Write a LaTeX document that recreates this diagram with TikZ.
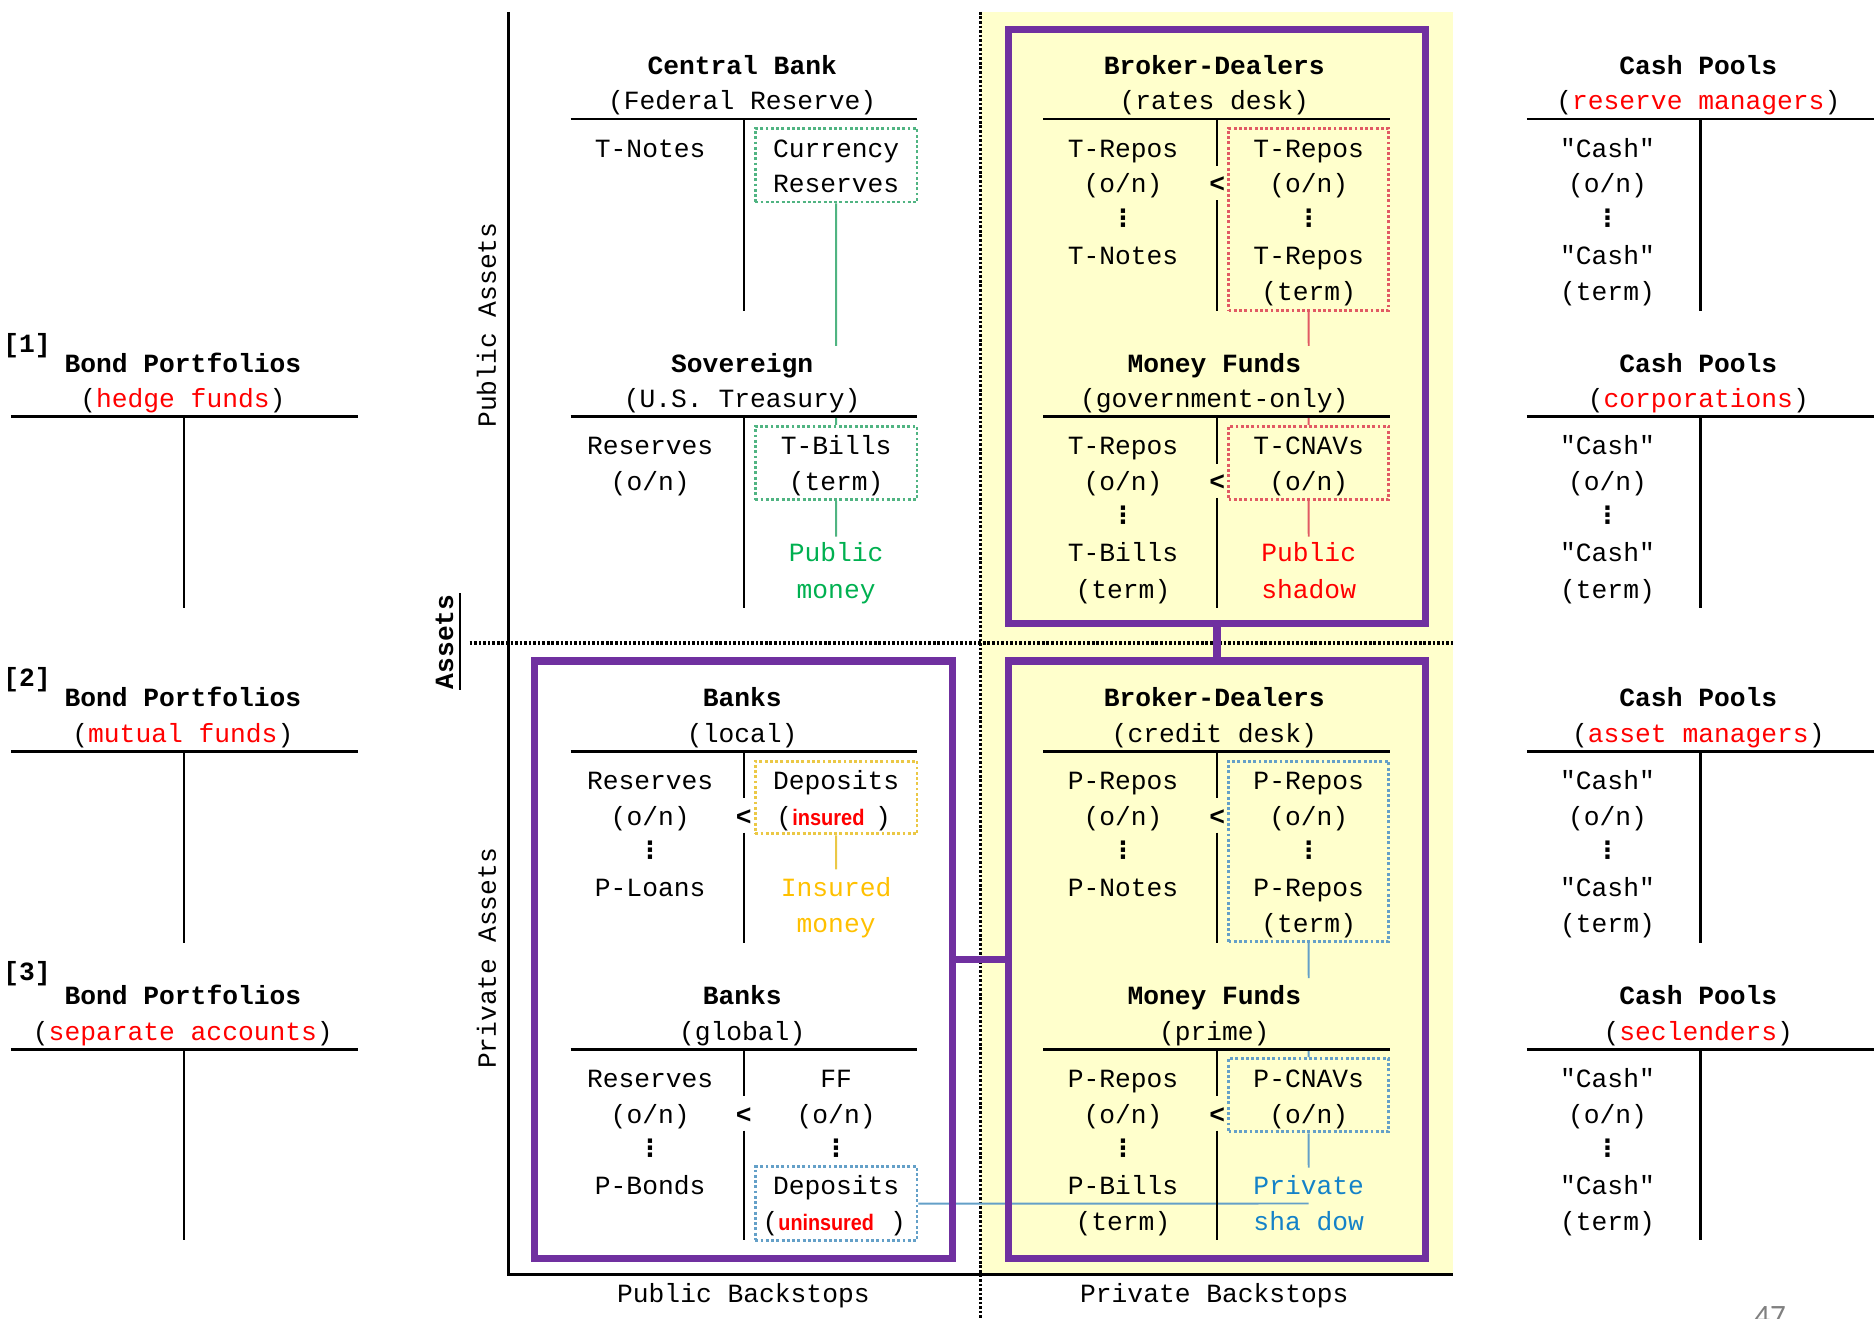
\documentclass[tikz,border=0pt]{standalone}
\usepackage{fontspec}
\usepackage{graphicx}
\setmainfont{Liberation Mono}
\setmonofont{Liberation Mono}
\setsansfont{Liberation Sans}
\newfontfamily\dvfont{DejaVu Sans}
\newfontfamily\pgfont{Carlito}
\usetikzlibrary{fit}
\definecolor{purp}{RGB}{112,48,160}
\definecolor{ybg}{RGB}{255,255,204}
\definecolor{gtext}{RGB}{0,176,80}
\definecolor{otext}{RGB}{255,192,0}
\definecolor{btext}{RGB}{20,130,200}
\definecolor{gbord}{RGB}{80,180,130}
\definecolor{rbord}{RGB}{225,90,100}
\definecolor{obord}{RGB}{235,200,70}
\definecolor{bbord}{RGB}{100,160,200}
\newcommand\vdt{{\dvfont\bfseries\fontsize{10}{11}\selectfont\char"22EE}}
\newcommand\insw[2]{\textcolor{red}{\scalebox{#1}[1]{\fontsize{9.4}{10}\sffamily\bfseries #2}}}
\begin{document}
\begin{tikzpicture}[x=0.5pt,y=-0.5pt,
  txt/.style={inner sep=0pt, anchor=base, yshift=-3.2pt, font=\ttfamily\fontsize{11}{13}\selectfont},
  ttl/.style={txt, font=\ttfamily\fontsize{11}{13}\selectfont\bfseries},
  dts/.style={inner sep=0pt, anchor=center},
  rot/.style={inner sep=0pt, anchor=center, rotate=90, font=\ttfamily\fontsize{11}{13}\selectfont},
  tacc/.style={line width=1.1pt},
  axisln/.style={line width=1.2pt},
  dsh/.style={line width=1.5pt, dash pattern=on 1.1pt off 0.8pt},
  pbox/.style={draw=purp, line width=3pt, inner sep=0pt},
  pline/.style={draw=purp, line width=3pt},
  cbox/.style={draw=#1, densely dotted, line width=1.2pt, inner sep=0pt},
  conn/.style={draw=#1, line width=0.8pt},
]
\useasboundingbox (0,0) rectangle (1568,1102.8);

% background and axes
\fill[ybg] (821,10) rectangle (1216,1066.7);
\draw[dsh] (820.5,10) -- (820.5,1102.8);
\draw[dsh] (393,538) -- (1216,538);
\draw[axisln] (425.3,10) -- (425.3,1066.7) -- (1216,1066.7);
\draw[line width=0.8pt] (385,496.5) -- (385,577);

\node[rot] (pubA) at (407,272) {Public Assets};
\node[rot] (privA) at (407,802) {Private Assets};
\node[rot, font=\ttfamily\fontsize{11}{13}\selectfont\bfseries] (assets) at (372,537) {Assets};
\node[txt] (pubB) at (622,1083.7) {Public Backstops};
\node[txt] (privB) at (1016,1083.7) {Private Backstops};
\node[inner sep=0pt, anchor=north, text=gray, font=\pgfont\fontsize{13}{15}\selectfont] (pg) at (1481,1092.5) {47};

% colored boxes
\node[cbox=gbord, fit={(632,107.4)(767.3,169)}] (cr) {};
\node[cbox=gbord, fit={(632,356.7)(767.3,418)}] (tb) {};
\node[cbox=rbord, fit={(1027.9,107.4)(1162,259.5)}] (rr) {};
\node[cbox=rbord, fit={(1027.9,356.7)(1162,418)}] (tc) {};
\node[cbox=obord, fit={(632,636.9)(767.3,697.7)}] (di) {};
\node[cbox=bbord, fit={(1027.9,636.9)(1162,787.8)}] (pr) {};
\node[cbox=bbord, fit={(1027.9,885.8)(1162,947)}] (pc) {};
\node[cbox=bbord, fit={(632,976.3)(767.3,1037.8)}] (du) {};

% connectors
\coordinate (g1) at (699.6,289.4);
\coordinate (g2) at (699.6,348.6);
\coordinate (g3) at (699.6,449);
\draw[conn=gbord] (cr.south) -- (g1);
\draw[conn=gbord] (g2) -- (tb.north);
\draw[conn=gbord] (tb.south) -- (g3);
\coordinate (r1) at (1095,289.4);
\coordinate (r2) at (1095,348.6);
\coordinate (r3) at (1095,449);
\draw[conn=rbord] (rr.south) -- (r1);
\draw[conn=rbord] (r2) -- (tc.north);
\draw[conn=rbord] (tc.south) -- (r3);
\coordinate (o1) at (699.6,727.4);
\draw[conn=obord] (di.south) -- (o1);
\coordinate (b1) at (1095,818.5);
\coordinate (b2) at (1095,877.9);
\coordinate (b3) at (1095,977);
\coordinate (b4) at (1095,1007);
\draw[conn=bbord] (pr.south) -- (b1);
\draw[conn=bbord] (b2) -- (pc.north);
\draw[conn=bbord] (pc.south) -- (b3);
\draw[conn=bbord] (du.east) -- (b4);

% purple boxes
\node[pbox, fit={(843.5,24.5)(1193,522)}] (pTR) {};
\node[pbox, fit={(843.5,553)(1193,1053)}] (pBR) {};
\node[pbox, fit={(447.5,553)(797,1053)}] (pBL) {};
\draw[pline] (pTR.south) -- (pBR.north);
\draw[pline] (pBL.east) -- (pBR.west);

% ---------- Column A: Bond Portfolios ----------
\node[ttl] (i1) at (22.6,288.7) {[1]};
\node[ttl] (bp1) at (153,305) {Bond Portfolios};
\node[txt] (bs1) at (153,334.5) {(\textcolor{red}{hedge funds})};
\draw[tacc] (9,348.6) -- (299.4,348.6) (154,348.6) -- (154,508.8);
\node[ttl] (i2) at (22.6,568) {[2]};
\node[ttl] (bp2) at (153,584.4) {Bond Portfolios};
\node[txt] (bs2) at (153,614.5) {(\textcolor{red}{mutual funds})};
\draw[tacc] (9,628.6) -- (299.4,628.6) (154,628.6) -- (154,788.9);
\node[ttl] (i3) at (22.6,814) {[3]};
\node[ttl] (bp3) at (153,834) {Bond Portfolios};
\node[txt] (bs3) at (153,864) {(\textcolor{red}{separate accounts})};
\draw[tacc] (9,877.9) -- (299.4,877.9) (154,877.9) -- (154,1037.8);

% ---------- Column B ----------
\node[ttl] (cbT) at (621,55.6) {Central Bank};
\node[txt] (cbS) at (621,85.6) {(Federal Reserve)};
\draw[tacc] (477.4,99.6) -- (767.3,99.6) (622.4,99.6) -- (622.4,259.9);
\node[txt] (cbL1) at (544,125) {T-Notes};
\node[txt] (cbR1) at (699.6,125) {Currency};
\node[txt] (cbR2) at (699.6,155) {Reserves};

\node[ttl] (svT) at (621,305) {Sovereign};
\node[txt] (svS) at (621,334.5) {(U.S. Treasury)};
\draw[tacc] (477.4,348.6) -- (767.3,348.6) (622.4,348.6) -- (622.4,508.8);
\node[txt] (svL1) at (544,374) {Reserves};
\node[txt] (svL2) at (544,404) {(o/n)};
\node[txt] (svR1) at (699.6,374) {T-Bills};
\node[txt] (svR2) at (699.6,404) {(term)};
\node[txt, text=gtext] (svR4) at (699.6,463.8) {Public};
\node[txt, text=gtext] (svR5) at (699.6,494) {money};

\node[ttl] (blT) at (621,584.4) {Banks};
\node[txt] (blS) at (621,614.5) {(local)};
\draw[tacc] (477.4,628.6) -- (767.3,628.6) (622.4,628.6) -- (622.4,668) (622.4,696.6) -- (622.4,788.9);
\node[ttl] (blLt) at (622.4,684) {<};
\node[txt] (blL1) at (544,654) {Reserves};
\node[txt] (blL2) at (544,684) {(o/n)};
\node[dts] (blL3) at (544,711.4) {\vdt};
\node[txt] (blL4) at (544,743.8) {P-Loans};
\node[txt] (blR1) at (699.6,654) {Deposits};
\node[txt] (blR2) at (697.6,684) {(\insw{0.89}{insured}\hspace{4.5pt})};
\node[txt, text=otext] (blR4) at (699.6,743.8) {Insured};
\node[txt, text=otext] (blR5) at (699.6,774) {money};

\node[ttl] (bgT) at (621,834) {Banks};
\node[txt] (bgS) at (621,864) {(global)};
\draw[tacc] (477.4,877.9) -- (767.3,877.9) (622.4,877.9) -- (622.4,917.3) (622.4,945.9) -- (622.4,1037.8);
\node[ttl] (bgLt) at (622.4,933.3) {<};
\node[txt] (bgL1) at (544,903.3) {Reserves};
\node[txt] (bgL2) at (544,933.3) {(o/n)};
\node[dts] (bgL3) at (544,960.7) {\vdt};
\node[txt] (bgL4) at (544,993.1) {P-Bonds};
\node[txt] (bgR1) at (699.6,903.3) {FF};
\node[txt] (bgR2) at (699.6,933.3) {(o/n)};
\node[dts] (bgR3) at (699.6,960.7) {\vdt};
\node[txt] (bgR4) at (699.6,993.1) {Deposits};
\node[txt] (bgR5) at (698,1023.3) {(\insw{0.88}{uninsured}\hspace{6.7pt})};

% ---------- Column C ----------
\node[ttl] (rdT) at (1016,55.6) {Broker-Dealers};
\node[txt] (rdS) at (1016,85.6) {(rates desk)};
\draw[tacc] (872.8,99.6) -- (1163,99.6) (1018.4,99.6) -- (1018.4,139) (1018.4,167.6) -- (1018.4,259.9);
\node[ttl] (rdLt) at (1018.4,155) {<};
\node[txt] (rdL1) at (939.6,125) {T-Repos};
\node[txt] (rdL2) at (939.6,155) {(o/n)};
\node[dts] (rdL3) at (939.6,182.4) {\vdt};
\node[txt] (rdL4) at (939.6,214.8) {T-Notes};
\node[txt] (rdR1) at (1095,125) {T-Repos};
\node[txt] (rdR2) at (1095,155) {(o/n)};
\node[dts] (rdR3) at (1095,182.4) {\vdt};
\node[txt] (rdR4) at (1095,214.8) {T-Repos};
\node[txt] (rdR5) at (1095,245) {(term)};

\node[ttl] (mgT) at (1016,305) {Money Funds};
\node[txt] (mgS) at (1016,334.5) {(government-only)};
\draw[tacc] (872.8,348.6) -- (1163,348.6) (1018.4,348.6) -- (1018.4,388) (1018.4,416.6) -- (1018.4,508.8);
\node[ttl] (mgLt) at (1018.4,404) {<};
\node[txt] (mgL1) at (939.6,374) {T-Repos};
\node[txt] (mgL2) at (939.6,404) {(o/n)};
\node[dts] (mgL3) at (939.6,431.4) {\vdt};
\node[txt] (mgL4) at (939.6,463.8) {T-Bills};
\node[txt] (mgL5) at (939.6,494) {(term)};
\node[txt] (mgR1) at (1095,374) {T-CNAVs};
\node[txt] (mgR2) at (1095,404) {(o/n)};
\node[txt, text=red] (mgR4) at (1095,463.8) {Public};
\node[txt, text=red] (mgR5) at (1095,494) {shadow};

\node[ttl] (cdT) at (1016,584.4) {Broker-Dealers};
\node[txt] (cdS) at (1016,614.5) {(credit desk)};
\draw[tacc] (872.8,628.6) -- (1163,628.6) (1018.4,628.6) -- (1018.4,668) (1018.4,696.6) -- (1018.4,788.9);
\node[ttl] (cdLt) at (1018.4,684) {<};
\node[txt] (cdL1) at (939.6,654) {P-Repos};
\node[txt] (cdL2) at (939.6,684) {(o/n)};
\node[dts] (cdL3) at (939.6,711.4) {\vdt};
\node[txt] (cdL4) at (939.6,743.8) {P-Notes};
\node[txt] (cdR1) at (1095,654) {P-Repos};
\node[txt] (cdR2) at (1095,684) {(o/n)};
\node[dts] (cdR3) at (1095,711.4) {\vdt};
\node[txt] (cdR4) at (1095,743.8) {P-Repos};
\node[txt] (cdR5) at (1095,774) {(term)};

\node[ttl] (mpT) at (1016,834) {Money Funds};
\node[txt] (mpS) at (1016,864) {(prime)};
\draw[tacc] (872.8,877.9) -- (1163,877.9) (1018.4,877.9) -- (1018.4,917.3) (1018.4,945.9) -- (1018.4,1037.8);
\node[ttl] (mpLt) at (1018.4,933.3) {<};
\node[txt] (mpL1) at (939.6,903.3) {P-Repos};
\node[txt] (mpL2) at (939.6,933.3) {(o/n)};
\node[dts] (mpL3) at (939.6,960.7) {\vdt};
\node[txt] (mpL4) at (939.6,993.1) {P-Bills};
\node[txt] (mpL5) at (939.6,1023.3) {(term)};
\node[txt] (mpR1) at (1095,903.3) {P-CNAVs};
\node[txt] (mpR2) at (1095,933.3) {(o/n)};
\node[txt, text=btext] (mpR4) at (1095,993.1) {Private};
\node[txt, text=btext] (mpR5) at (1095,1023.3) {sha dow};

% ---------- Column D: Cash Pools ----------
\node[ttl] (c1T) at (1421,55.6) {Cash Pools};
\node[txt] (c1S) at (1421,85.6) {(\textcolor{red}{reserve managers})};
\draw[tacc] (1277.6,99.6) -- (1570,99.6) (1422.7,99.6) -- (1422.7,259.9);
\node[txt] (c1L1) at (1345,125) {"Cash"};
\node[txt] (c1L2) at (1345,155) {(o/n)};
\node[dts] (c1L3) at (1345,182.4) {\vdt};
\node[txt] (c1L4) at (1345,214.8) {"Cash"};
\node[txt] (c1L5) at (1345,245) {(term)};

\node[ttl] (c2T) at (1421,305) {Cash Pools};
\node[txt] (c2S) at (1421,334.5) {(\textcolor{red}{corporations})};
\draw[tacc] (1277.6,348.6) -- (1570,348.6) (1422.7,348.6) -- (1422.7,508.8);
\node[txt] (c2L1) at (1345,374) {"Cash"};
\node[txt] (c2L2) at (1345,404) {(o/n)};
\node[dts] (c2L3) at (1345,431.4) {\vdt};
\node[txt] (c2L4) at (1345,463.8) {"Cash"};
\node[txt] (c2L5) at (1345,494) {(term)};

\node[ttl] (c3T) at (1421,584.4) {Cash Pools};
\node[txt] (c3S) at (1421,614.5) {(\textcolor{red}{asset managers})};
\draw[tacc] (1277.6,628.6) -- (1570,628.6) (1422.7,628.6) -- (1422.7,788.9);
\node[txt] (c3L1) at (1345,654) {"Cash"};
\node[txt] (c3L2) at (1345,684) {(o/n)};
\node[dts] (c3L3) at (1345,711.4) {\vdt};
\node[txt] (c3L4) at (1345,743.8) {"Cash"};
\node[txt] (c3L5) at (1345,774) {(term)};

\node[ttl] (c4T) at (1421,834) {Cash Pools};
\node[txt] (c4S) at (1421,864) {(\textcolor{red}{seclenders})};
\draw[tacc] (1277.6,877.9) -- (1570,877.9) (1422.7,877.9) -- (1422.7,1037.8);
\node[txt] (c4L1) at (1345,903.3) {"Cash"};
\node[txt] (c4L2) at (1345,933.3) {(o/n)};
\node[dts] (c4L3) at (1345,960.7) {\vdt};
\node[txt] (c4L4) at (1345,993.1) {"Cash"};
\node[txt] (c4L5) at (1345,1023.3) {(term)};
\end{tikzpicture}
\end{document}
